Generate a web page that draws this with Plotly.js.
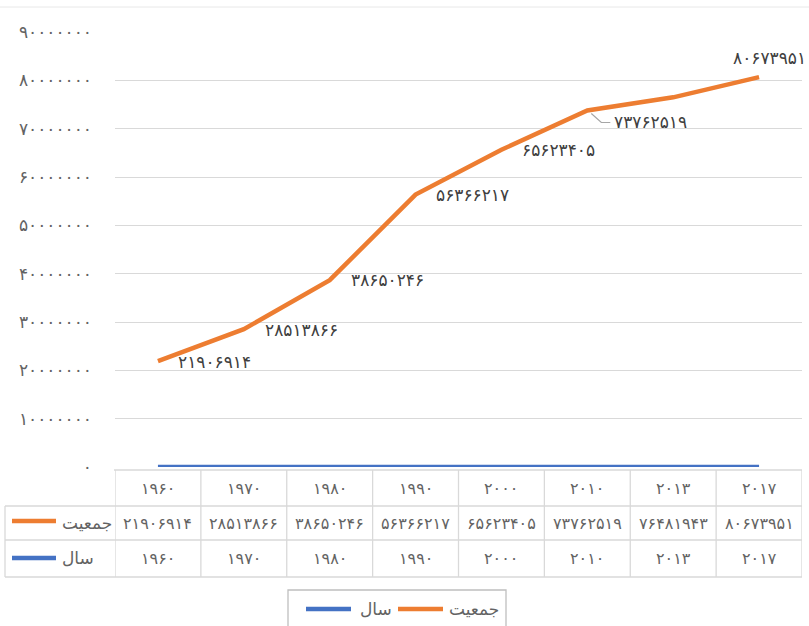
<!DOCTYPE html>
<html>
<head>
<meta charset="utf-8">
<script src="https://cdn.plot.ly/plotly-3.0.1.min.js"></script>
<style>html,body{margin:0;padding:0;background:#fff;}#chart{width:809px;height:626px;}</style>
</head>
<body>
<div id="chart"></div>
<script>
// ---- data ----
const years = [1960, 1970, 1980, 1990, 2000, 2010, 2013, 2017];
const population = [21906914, 28513866, 38650246, 56366217, 65623405, 73762519, 76481943, 80673951];
const yTickValues = [0, 10000000, 20000000, 30000000, 40000000, 50000000, 60000000, 70000000, 80000000, 90000000];
const popName = 'جمعیت';
const yearName = 'سال';
const labelShown = [true, true, true, true, true, true, false, true];

// ---- helpers ----
const faDigits = '۰۱۲۳۴۵۶۷۸۹';
function fa(n) { return String(n).replace(/[0-9]/g, d => faDigits[+d]); }

const ORANGE = '#ED7D31', BLUE = '#4472C4', GRID = '#d9d9d9', TXT = '#636363';
const FONT = 'DejaVu Sans';
const idx = years.map((_, i) => i);

// plot geometry (px) for paper conversions
const PT = 32, PB = 467, PL = 115, PR = 802;
const PH = PB - PT, PW = PR - PL;
const py = y => (PB - y) / PH;
const px = x => (x - PL) / PW;

const traces = [
  { x: idx, y: years, name: yearName, type: 'scatter', mode: 'lines',
    line: { color: BLUE, width: 4.5 }, cliponaxis: false, hoverinfo: 'skip', showlegend: false },
  { x: idx, y: population, name: popName, type: 'scatter', mode: 'lines',
    line: { color: ORANGE, width: 4.5 }, cliponaxis: false, hoverinfo: 'skip', showlegend: false }
];

// data label styling (offsets in px)
const lblStyle = [
  { xa: 'left', dx: 18, dy: -1 },
  { xa: 'left', dx: 19, dy: -1 },
  { xa: 'left', dx: 19, dy: 0 },
  { xa: 'left', dx: 18, dy: 0 },
  { xa: 'left', dx: 19, dy: 0 },
  { xa: 'left', dx: 25, dy: -12 },
  { xa: 'left', dx: 18, dy: 0 },
  { xa: 'center', dx: 10, dy: 19 }
];

const annotations = [];
population.forEach((v, i) => {
  if (!labelShown[i]) return;
  const s = lblStyle[i];
  annotations.push({ x: i, y: v, xref: 'x', yref: 'y', text: fa(v), showarrow: false,
    xanchor: s.xa, yanchor: 'middle', xshift: s.dx, yshift: s.dy,
    font: { family: FONT, size: 17, color: '#404040' } });
});

// data table text
const rowHead = py(488), rowPop = py(523), rowYear = py(558);
const tFont = { family: FONT, size: 16, color: TXT };
years.forEach((y, i) => {
  annotations.push({ x: i, y: rowHead, xref: 'x', yref: 'paper', text: fa(y), showarrow: false,
    xanchor: 'center', yanchor: 'middle', font: tFont });
  annotations.push({ x: i, y: rowPop, xref: 'x', yref: 'paper', text: fa(population[i]), showarrow: false,
    xanchor: 'center', yanchor: 'middle', font: tFont });
  annotations.push({ x: i, y: rowYear, xref: 'x', yref: 'paper', text: fa(y), showarrow: false,
    xanchor: 'center', yanchor: 'middle', font: tFont });
});
const nFont = { family: FONT, size: 17, color: TXT };
annotations.push({ x: px(60), y: rowPop, xref: 'paper', yref: 'paper', text: popName, showarrow: false,
  xanchor: 'left', yanchor: 'middle', font: nFont });
annotations.push({ x: px(60), y: rowYear, xref: 'paper', yref: 'paper', text: yearName, showarrow: false,
  xanchor: 'left', yanchor: 'middle', font: nFont });

// bottom legend (drawn manually so it does not push the plot margins)
const legY = py(609);
annotations.push({ x: px(358), y: legY, xref: 'paper', yref: 'paper', text: yearName, showarrow: false,
  xanchor: 'left', yanchor: 'middle', font: nFont });
annotations.push({ x: px(447), y: legY, xref: 'paper', yref: 'paper', text: popName, showarrow: false,
  xanchor: 'left', yanchor: 'middle', font: nFont });

// table lines
const shapes = [];
const L = { color: GRID, width: 1.3 };
const tTop = py(470), tR1 = py(506), tR2 = py(540), tBot = py(577), xLeft = px(5);
shapes.push({ type: 'line', xref: 'paper', yref: 'paper', x0: px(114), x1: 1, y0: tTop, y1: tTop, line: L });
[tR1, tR2, tBot].forEach(yy => shapes.push({ type: 'line', xref: 'paper', yref: 'paper', x0: xLeft, x1: 1, y0: yy, y1: yy, line: L }));
shapes.push({ type: 'line', xref: 'paper', yref: 'paper', x0: xLeft, x1: xLeft, y0: tR1, y1: tBot, line: L });
for (let i = 0; i <= years.length; i++) {
  shapes.push({ type: 'line', xref: 'x', yref: 'paper', x0: i - 0.5, x1: i - 0.5, y0: tTop, y1: tBot, line: L });
}
// legend keys in table
shapes.push({ type: 'line', xref: 'paper', yref: 'paper', x0: px(12), x1: px(56), y0: py(521), y1: py(521),
  line: { color: ORANGE, width: 4.5 } });
shapes.push({ type: 'line', xref: 'paper', yref: 'paper', x0: px(12), x1: px(56), y0: py(558), y1: py(558),
  line: { color: BLUE, width: 4.5 } });
// bottom legend box + keys
shapes.push({ type: 'rect', xref: 'paper', yref: 'paper', x0: px(288), x1: px(506), y0: py(590), y1: py(630),
  line: { color: '#bfbfbf', width: 1.3 }, fillcolor: 'rgba(0,0,0,0)' });
shapes.push({ type: 'line', xref: 'paper', yref: 'paper', x0: px(306), x1: px(351), y0: legY, y1: legY,
  line: { color: BLUE, width: 4.5 } });
shapes.push({ type: 'line', xref: 'paper', yref: 'paper', x0: px(398), x1: px(443), y0: legY, y1: legY,
  line: { color: ORANGE, width: 4.5 } });
// chart area top border
shapes.push({ type: 'line', xref: 'paper', yref: 'paper', x0: px(0), x1: px(809), y0: py(7), y1: py(7),
  line: { color: '#e8e8e8', width: 1 } });
// leader line for 2010 label
shapes.push({ type: 'path', xref: 'x', yref: 'y', xsizemode: 'pixel', ysizemode: 'pixel',
  xanchor: 5, yanchor: population[5], path: 'M4,-3 L14,-12 L23,-12',
  line: { color: '#a6a6a6', width: 1.2 } });

const layout = {
  width: 809, height: 626,
  margin: { l: PL, r: 809 - PR, t: PT, b: 626 - PB },
  paper_bgcolor: '#fff', plot_bgcolor: '#fff',
  font: { family: FONT, color: TXT },
  showlegend: false,
  xaxis: { type: 'linear', range: [-0.5, years.length - 0.5], showticklabels: false, showgrid: false,
    zeroline: false, showline: false, ticks: '', fixedrange: true },
  yaxis: { range: [0, 90000000], tickvals: yTickValues, ticktext: yTickValues.map(fa),
    tickfont: { family: FONT, size: 17, color: TXT }, showgrid: true, gridcolor: GRID, gridwidth: 1,
    zeroline: false, showline: false, ticks: '', ticklabelstandoff: 22, fixedrange: true },
  shapes: shapes,
  annotations: annotations
};

Plotly.newPlot('chart', traces, layout, { displayModeBar: false, staticPlot: true });
</script>
</body>
</html>
